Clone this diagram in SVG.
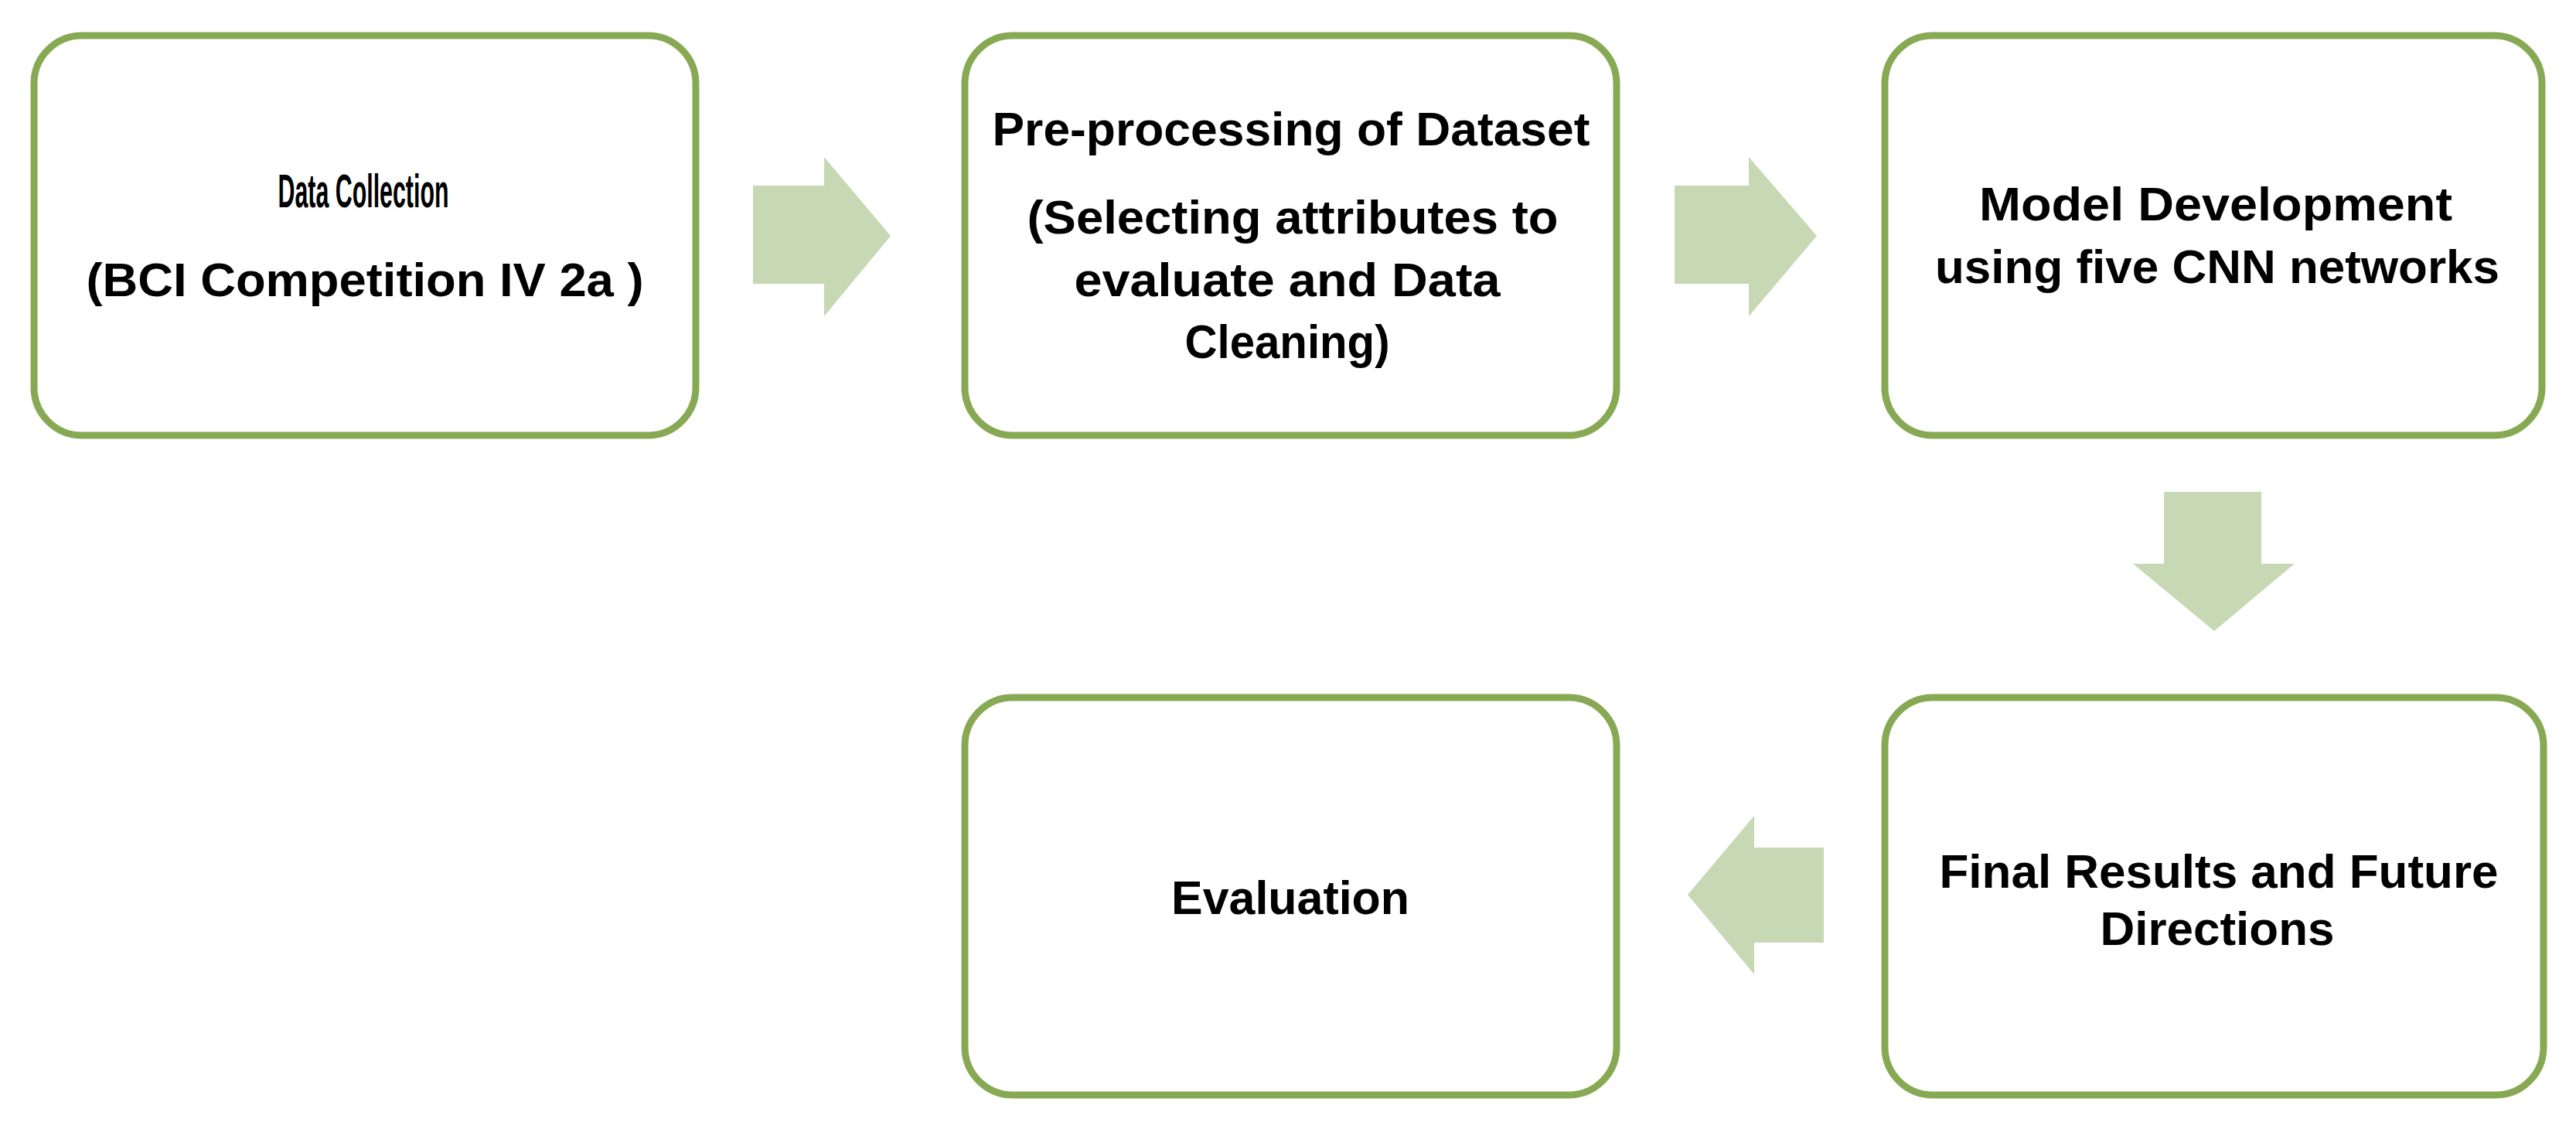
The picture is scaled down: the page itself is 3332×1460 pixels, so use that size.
<svg xmlns="http://www.w3.org/2000/svg" width="3332" height="1460" viewBox="0 0 3332 1460">
<style>
.box{fill:#fff;stroke:#88A953;stroke-width:9}
.arr{fill:#C6D9B4}
text{font-family:"Liberation Sans",Arial,sans-serif;font-weight:bold;font-size:62px;fill:#000;text-anchor:middle}
</style>
<rect width="3332" height="1460" fill="#fff"/>
<g id="connectors">
<polygon class="arr" points="974,240 1066,240 1066,203 1152,305 1066,409 1066,367 974,367"/>
<polygon class="arr" points="2166,240 2262,240 2262,203 2350,305 2262,409 2262,367 2166,367"/>
<polygon class="arr" points="2799,636 2925,636 2925,729 2968,729 2864,816 2759,729 2799,729"/>
<polygon class="arr" points="2359,1096 2269,1096 2269,1055 2183,1157 2269,1260 2269,1219 2359,1219"/>
</g>
<g id="n1"><rect class="box" x="44" y="46" width="856" height="517" rx="62"/>
<text x="470" y="268" textLength="221" lengthAdjust="spacingAndGlyphs">Data Collection</text>
<text x="472" y="383" textLength="721" lengthAdjust="spacingAndGlyphs">(BCI Competition IV 2a )</text></g>
<g id="n2"><rect class="box" x="1248" y="46" width="843" height="517" rx="62"/>
<text x="1670" y="188" textLength="773" lengthAdjust="spacingAndGlyphs">Pre-processing of Dataset</text>
<text x="1672" y="302" textLength="687" lengthAdjust="spacingAndGlyphs">(Selecting attributes to</text>
<text x="1665" y="383" textLength="551" lengthAdjust="spacingAndGlyphs">evaluate and Data</text>
<text x="1665" y="463" textLength="265" lengthAdjust="spacingAndGlyphs">Cleaning)</text></g>
<g id="n3"><rect class="box" x="2438" y="46" width="850" height="517" rx="62"/>
<text x="2866" y="285" textLength="612" lengthAdjust="spacingAndGlyphs">Model Development</text>
<text x="2868" y="366" textLength="730" lengthAdjust="spacingAndGlyphs">using five CNN networks</text></g>
<g id="n4"><rect class="box" x="1248" y="902" width="843" height="514" rx="62"/>
<text x="1669" y="1182" textLength="308" lengthAdjust="spacingAndGlyphs">Evaluation</text></g>
<g id="n5"><rect class="box" x="2438" y="902" width="852" height="514" rx="62"/>
<text x="2870" y="1148" textLength="723" lengthAdjust="spacingAndGlyphs">Final Results and Future</text>
<text x="2868" y="1222" textLength="303" lengthAdjust="spacingAndGlyphs">Directions</text></g>
</svg>
